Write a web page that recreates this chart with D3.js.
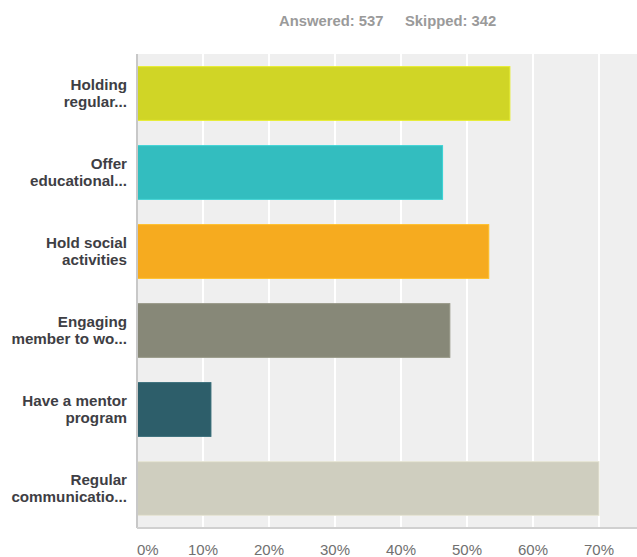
<!DOCTYPE html>
<html>
<head>
<meta charset="utf-8">
<script src="https://cdn.jsdelivr.net/npm/d3@7"></script>
<style>
  body { margin: 0; background: #fff; }
  svg { display: block; font-family: "Liberation Sans", Arial, Helvetica, sans-serif; }
</style>
</head>
<body>
<script>
var categories = [
  ["Holding", "regular..."],
  ["Offer", "educational..."],
  ["Hold social", "activities"],
  ["Engaging", "member to wo..."],
  ["Have a mentor", "program"],
  ["Regular", "communicatio..."]
];
var values = [56.5, 46.3, 53.3, 47.4, 11.2, 70.0];
var colors = ["#d0d526", "#33bdbf", "#f6ab1f", "#878878", "#2d5e6a", "#cfcebf"];
var ticks = [0, 10, 20, 30, 40, 50, 60, 70];

var width = 637, height = 557;
var margin = {top: 54, right: 0, bottom: 29, left: 137};
var pw = width - margin.left - margin.right,
    ph = height - margin.top - margin.bottom;

var svg = d3.select("body").append("svg")
  .attr("width", width)
  .attr("height", height);

// header
svg.append("text")
  .attr("x", 279).attr("y", 26)
  .attr("fill", "#9a9a9a")
  .attr("font-size", 14.8)
  .attr("font-weight", "bold")
  .text("Answered: 537");
svg.append("text")
  .attr("x", 405).attr("y", 26)
  .attr("fill", "#9a9a9a")
  .attr("font-size", 14.8)
  .attr("font-weight", "bold")
  .text("Skipped: 342");

var x = d3.scaleLinear().domain([0, 10]).range([0, 66]);
var y = d3.scaleBand()
  .domain(d3.range(categories.length))
  .range([0, ph])
  .paddingInner(0.32)
  .paddingOuter(0.16);

var g = svg.append("g")
  .attr("transform", "translate(" + margin.left + "," + margin.top + ")");

// plot background
g.append("rect")
  .attr("width", pw).attr("height", ph)
  .attr("fill", "#efefef");

// gridlines
g.selectAll(".grid")
  .data(ticks.concat([80]).slice(1))
  .enter().append("line")
  .attr("x1", function(d) { return x(d); })
  .attr("x2", function(d) { return x(d); })
  .attr("y1", 0).attr("y2", ph)
  .attr("stroke", "#fff")
  .attr("stroke-width", 2);

// bars
g.selectAll(".bar")
  .data(values)
  .enter().append("rect")
  .attr("x", 0)
  .attr("y", function(d, i) { return y(i); })
  .attr("width", function(d) { return x(d); })
  .attr("height", y.bandwidth())
  .attr("fill", function(d, i) { return colors[i]; })
  .attr("stroke", function(d, i) { return d3.color(colors[i]).brighter(0.3); })
  .attr("stroke-width", 1);

// axis lines
g.append("line")
  .attr("x1", 0).attr("x2", 0)
  .attr("y1", 0).attr("y2", ph)
  .attr("stroke", "#c8c8c8").attr("stroke-width", 2);
g.append("line")
  .attr("x1", 0).attr("x2", pw)
  .attr("y1", ph).attr("y2", ph)
  .attr("stroke", "#d0d0d0").attr("stroke-width", 2);

// category labels
var lab = g.selectAll(".lab")
  .data(categories)
  .enter().append("text")
  .attr("text-anchor", "end")
  .attr("font-size", 15.2)
  .attr("font-weight", "bold")
  .attr("fill", "#3e3e44")
  .attr("transform", function(d, i) {
    return "translate(-10," + (y(i) + y.bandwidth() / 2) + ")";
  });
lab.each(function(d) {
  var t = d3.select(this);
  d.forEach(function(line, k) {
    t.append("tspan")
      .attr("x", 0)
      .attr("y", (k - (d.length - 1) / 2) * 17 + 5)
      .text(line);
  });
});

// x tick labels
g.selectAll(".tick")
  .data(ticks)
  .enter().append("text")
  .attr("x", function(d) { return x(d); })
  .attr("y", ph + 27)
  .attr("text-anchor", function(d) { return d === 0 ? "start" : "middle"; })
  .attr("font-size", 15)
  .attr("fill", "#707070")
  .text(function(d) { return d + "%"; });
</script>
</body>
</html>
